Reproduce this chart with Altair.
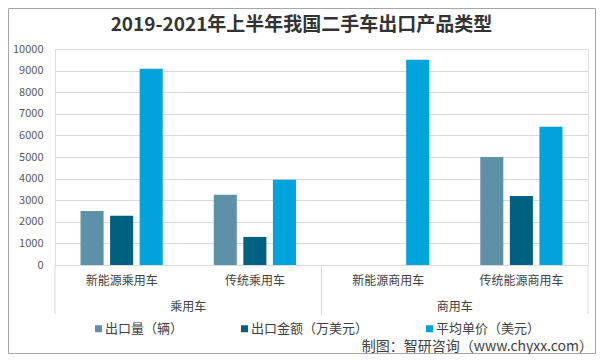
import altair as alt
import pandas as pd

categories = ["新能源乘用车", "传统乘用车", "新能源商用车", "传统能源商用车"]
series = ["出口量（辆）", "出口金额（万美元）", "平均单价（美元）"]
export_volume = [2500, 3250, None, 5000]
export_value = [2280, 1300, None, 3200]
avg_price = [9080, 3950, 9500, 6400]
groups = ["乘用车", "商用车"]
group_anchor = ["新能源乘用车", "新能源商用车"]
sep_left = ["新能源乘用车", "新能源商用车"]
sep_right = ["传统能源商用车"]
y_ticks = [0, 1000, 2000, 3000, 4000, 5000, 6000, 7000, 8000, 9000, 10000]
colors = ["#5E90A8", "#006080", "#00A3DA"]
title_text = "2019-2021年上半年我国二手车出口产品类型"
source_text = "制图：智研咨询（www.chyxx.com）"

FONT = "Noto Sans CJK SC"
W, H = 533, 216

rows = []
for i, c in enumerate(categories):
    for s, vals in zip(series, [export_volume, export_value, avg_price]):
        if vals[i] is not None:
            rows.append({"category": c, "series": s, "value": vals[i]})
df = pd.DataFrame(rows)

xscale = alt.Scale(domain=categories, paddingInner=0, paddingOuter=0)
xaxis = alt.Axis(title=None, labelAngle=0, ticks=False, labelPadding=10,
                 labelFontSize=12, labelColor="#404040", domainColor="#D9D9D9",
                 labelFont=FONT)

bars = alt.Chart(df).mark_bar().encode(
    x=alt.X("category:N", scale=xscale, sort=categories, axis=xaxis),
    xOffset=alt.XOffset("series:N", sort=series,
                        scale=alt.Scale(domain=series, paddingInner=0.22, paddingOuter=0.864)),
    y=alt.Y("value:Q", scale=alt.Scale(domain=[0, 10000]),
            axis=alt.Axis(title=None, values=y_ticks, format="d", domain=False, ticks=False,
                          labelPadding=12, labelFontSize=11, labelColor="#595959",
                          gridColor="#D9D9D9", labelFont=FONT)),
    color=alt.Color("series:N", sort=series,
                    scale=alt.Scale(domain=series, range=colors),
                    legend=alt.Legend(orient="none", legendX=37, legendY=273,
                                      direction="horizontal", title=None,
                                      symbolType="square", symbolSize=49,
                                      symbolStrokeWidth=0, labelFontSize=13,
                                      labelColor="#404040", labelFont=FONT,
                                      columnPadding=54, labelOffset=0, padding=0)),
)

group_df = pd.DataFrame({"group": groups, "anchor": group_anchor})
group_text = alt.Chart(group_df).mark_text(fontSize=12, color="#404040", baseline="middle", font=FONT).encode(
    x=alt.X("anchor:N", bandPosition=1, scale=xscale, axis=xaxis),
    y=alt.value(258),
    text="group:N",
)

rules_l = alt.Chart(pd.DataFrame({"cat": sep_left})).mark_rule(color="#D9D9D9").encode(
    x=alt.X("cat:N", bandPosition=0, scale=xscale, axis=xaxis),
    y=alt.value(H), y2=alt.value(265),
)
rules_r = alt.Chart(pd.DataFrame({"cat": sep_right})).mark_rule(color="#D9D9D9").encode(
    x=alt.X("cat:N", bandPosition=1, scale=xscale, axis=xaxis),
    y=alt.value(H), y2=alt.value(265),
)

one = pd.DataFrame({"k": [0]})
source = alt.Chart(one).mark_text(align="right", baseline="middle", fontSize=14,
                                  color="#404040", font=FONT).encode(
    x=alt.value(538), y=alt.value(298), text=alt.value(source_text))

frame = alt.Chart(one).mark_rect(filled=False, stroke="#A6A6A6", strokeWidth=1).encode(
    x=alt.value(-46.5), x2=alt.value(540.5), y=alt.value(-40.5), y2=alt.value(304.5))

chart = alt.layer(frame, rules_l, rules_r, bars, group_text, source).properties(
    width=W, height=H,
    autosize=alt.AutoSizeParams(type="none"),
    padding={"left": 47, "top": 41, "right": 8, "bottom": 89},
    title=alt.TitleParams(title_text, fontSize=19, fontWeight="bold", color="#333333",
                          anchor="middle", frame="group", dx=-20, offset=-27, font=FONT),
).configure_view(stroke=None).configure(font=FONT)

chart.save("out.html", embed_options={"renderer": "svg", "actions": False})
